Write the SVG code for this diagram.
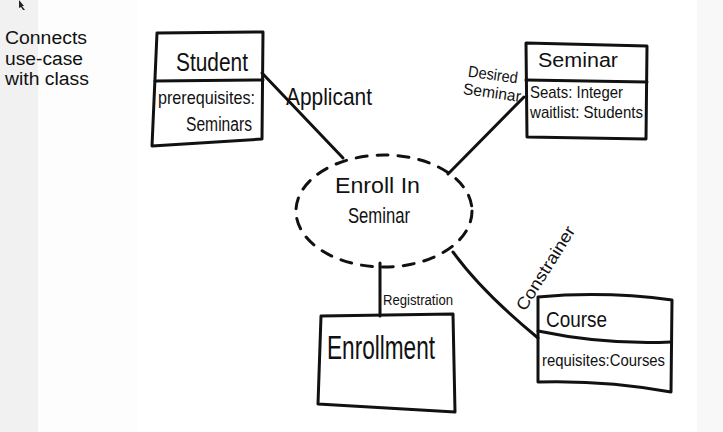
<svg xmlns="http://www.w3.org/2000/svg" width="723" height="432" viewBox="0 0 723 432">
<style>
.ink{fill:none;stroke:#111;stroke-width:3;stroke-linejoin:round;stroke-linecap:round}
.hw{font-family:"Liberation Sans Narrow","Liberation Sans",sans-serif;fill:#111}
.note{font-family:"Liberation Sans",Arial,sans-serif;font-size:18px;fill:#111}
</style>
<rect width="723" height="432" fill="#ffffff"/>
<rect x="0" y="0" width="38" height="432" fill="#f1f1f1"/>
<rect x="38" y="0" width="100" height="432" fill="#fdfdfd"/>
<rect x="697" y="0" width="26" height="432" fill="#f8f8f8"/>
<path d="M19,0 L24,6 L22,6 L25,10 L23,10 L21,7 L19,8 Z" fill="#222"/>
<g id="note">
<text class="note" x="5" y="44" textLength="82" lengthAdjust="spacingAndGlyphs">Connects</text>
<text class="note" x="5" y="65" textLength="78" lengthAdjust="spacingAndGlyphs">use-case</text>
<text class="note" x="5" y="85" textLength="84" lengthAdjust="spacingAndGlyphs">with class</text>
</g>
<g id="connectors">
<path class="ink" d="M262,73 L343,158"/>
<path class="ink" d="M524,97 L448,174"/>
<path class="ink" d="M380,263 L380,316"/>
<path class="ink" d="M453,252 Q482,292 538,338"/>
<text class="hw" x="286" y="105" font-size="24" textLength="86" lengthAdjust="spacingAndGlyphs">Applicant</text>
<text class="hw" x="468" y="80" font-size="16" textLength="50" lengthAdjust="spacingAndGlyphs" transform="rotate(8 493 75)">Desired</text>
<text class="hw" x="463" y="98" font-size="16" textLength="58" lengthAdjust="spacingAndGlyphs" transform="rotate(8 492 93)">Seminar</text>
<text class="hw" x="383" y="305" font-size="14" textLength="70" lengthAdjust="spacingAndGlyphs">Registration</text>
<text class="hw" x="0" y="0" font-size="17" textLength="96" lengthAdjust="spacingAndGlyphs" transform="translate(525 312) rotate(-58)">Constrainer</text>
</g>
<g id="usecase">
<ellipse class="ink" cx="384" cy="211" rx="88" ry="56" stroke-dasharray="11 10"/>
<text class="hw" x="335" y="193" font-size="22" textLength="85" lengthAdjust="spacingAndGlyphs">Enroll In</text>
<text class="hw" x="348" y="223" font-size="22" textLength="62" lengthAdjust="spacingAndGlyphs">Seminar</text>
</g>
<g id="student">
<path class="ink" d="M157,33 L263,32 L262,139 L152,146 Z"/>
<path class="ink" d="M155,81 L263,80"/>
<text class="hw" x="176" y="71" font-size="25" textLength="72" lengthAdjust="spacingAndGlyphs">Student</text>
<text class="hw" x="158" y="104" font-size="19" textLength="97" lengthAdjust="spacingAndGlyphs">prerequisites:</text>
<text class="hw" x="186" y="131" font-size="20" textLength="66" lengthAdjust="spacingAndGlyphs">Seminars</text>
</g>
<g id="seminar">
<path class="ink" d="M526,43 L647,46 L646,139 L527,137 Z"/>
<path class="ink" d="M526,80 L647,82"/>
<text class="hw" x="538" y="67" font-size="20" textLength="80" lengthAdjust="spacingAndGlyphs">Seminar</text>
<text class="hw" x="530" y="98" font-size="17" textLength="93" lengthAdjust="spacingAndGlyphs">Seats: Integer</text>
<text class="hw" x="530" y="118" font-size="17" textLength="113" lengthAdjust="spacingAndGlyphs">waitlist: Students</text>
</g>
<g id="enrollment">
<path class="ink" d="M321,316 L453,314 L455,412 L318,404 Z"/>
<text class="hw" x="327" y="359" font-size="34" textLength="108" lengthAdjust="spacingAndGlyphs">Enrollment</text>
</g>
<g id="course">
<path class="ink" d="M538,297 Q605,291 672,300 L671,392 Q605,380 538,382 Z"/>
<path class="ink" d="M538,331 Q605,345 671,342"/>
<text class="hw" x="546" y="327" font-size="22" textLength="61" lengthAdjust="spacingAndGlyphs">Course</text>
<text class="hw" x="542" y="366" font-size="16" textLength="123" lengthAdjust="spacingAndGlyphs">requisites:Courses</text>
</g>
</svg>
